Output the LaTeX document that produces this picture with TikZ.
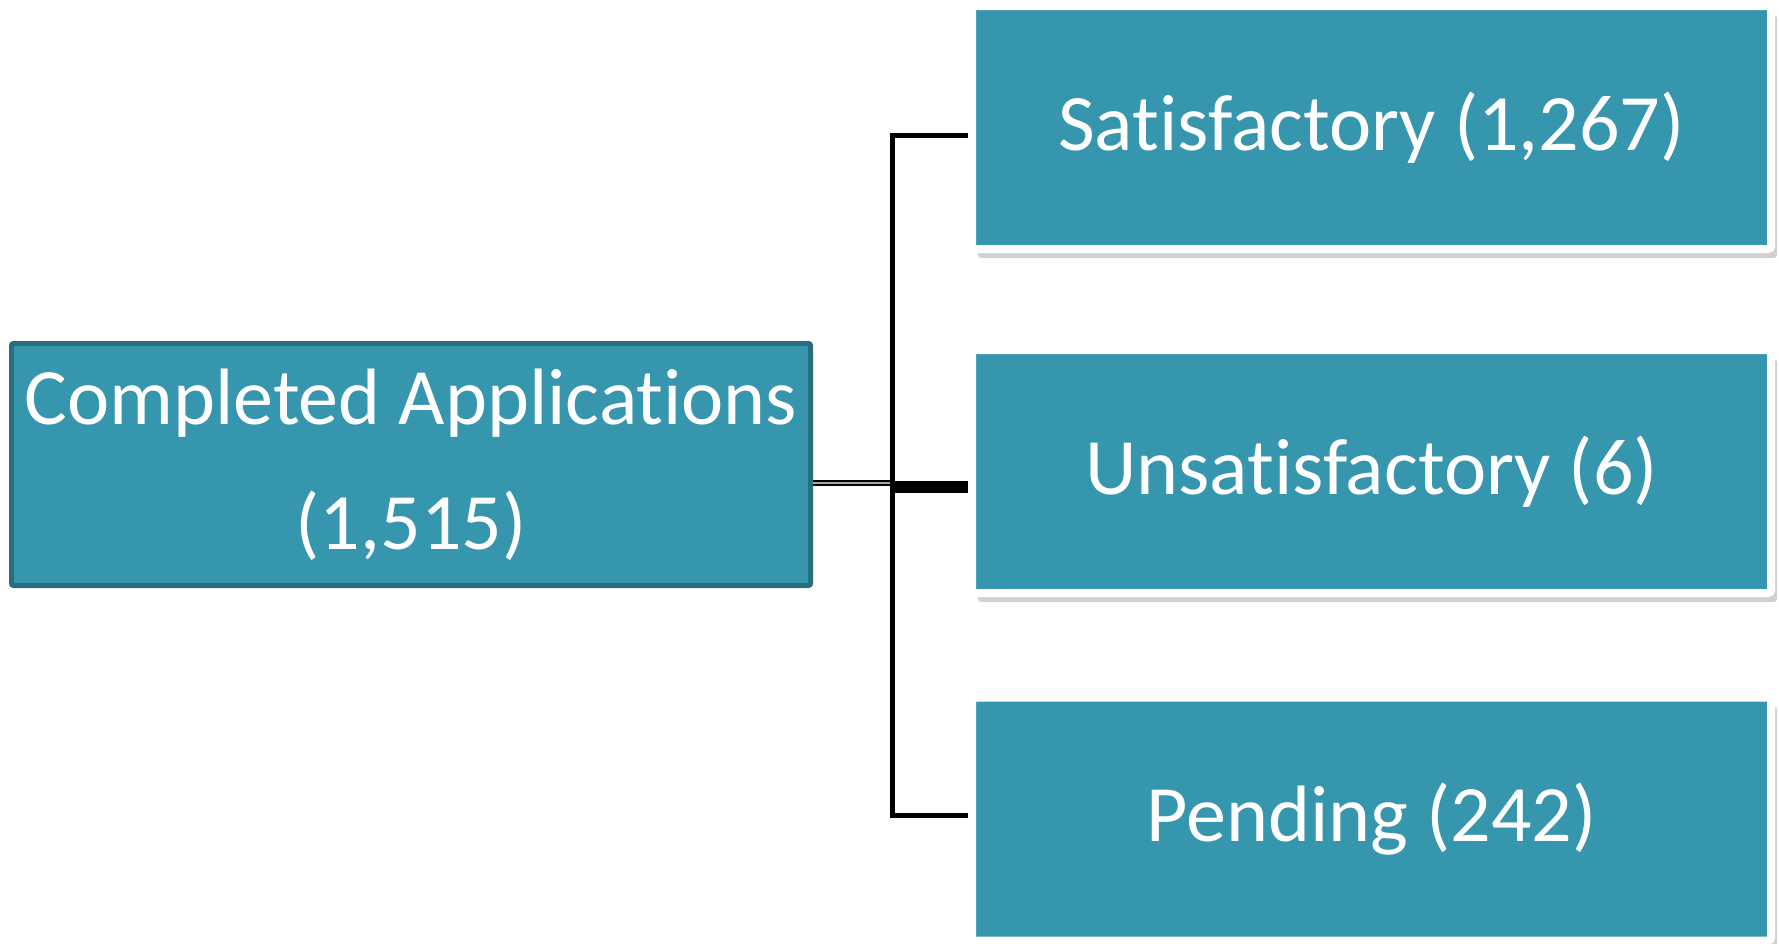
\documentclass[tikz,border=0pt]{standalone}
\usepackage{fontspec}
\setmainfont[Ligatures={NoCommon}]{Carlito}
\usetikzlibrary{shadows}
\definecolor{tealfill}{HTML}{3596AE}
\definecolor{tealdark}{HTML}{276F80}
\tikzset{
  mainbox/.style={rectangle, fill=tealfill, draw=tealdark, line width=5pt, rounded corners=2pt,
    minimum width=799pt, minimum height=242pt, text=white, align=center,
    font=\fontsize{80}{125}\selectfont, inner sep=0pt},
  subbox/.style={rectangle, fill=tealfill, draw=white, line width=8pt, rounded corners=3pt,
    minimum width=799pt, minimum height=243pt, text=white, align=center,
    font=\fontsize{80}{100}\selectfont, inner sep=0pt,
    drop shadow={shadow xshift=6pt, shadow yshift=-9pt, opacity=0.3, fill=black!60}},
  conn/.style={draw=black, line width=5pt, line join=miter},
}
\begin{document}
\begin{tikzpicture}[x=1pt,y=-1pt]
\useasboundingbox (0,0) rectangle (1779,943);
\node[mainbox] (left) at (411,464.5) {Completed Applications\\(1,515)};
\node[subbox] (b1) at (1371.5,127.5) {Satisfactory (1,267)};
\node[subbox] (b2) at (1371.5,471.5) {Unsatisfactory (6)};
\node[subbox] (b3) at (1371.5,819) {Pending (242)};
\coordinate (jt) at (892,135);
\coordinate (jb) at (892,815);
\coordinate (jm) at (892,483);
\coordinate (jm2) at (892,487);
\draw[conn] ([yshift=-7.5pt]b1.west) -- (jt) -- (jb) -- ([yshift=4pt]b3.west);
\draw[draw=black, line width=2.5pt, double=gray!70, double distance=1.5pt] ([yshift=-18.5pt]left.east) -- (jm);
\draw[draw=black, line width=12pt] ([xshift=-2.5pt]jm2) -- ([yshift=-15.5pt]b2.west);
\end{tikzpicture}
\end{document}
